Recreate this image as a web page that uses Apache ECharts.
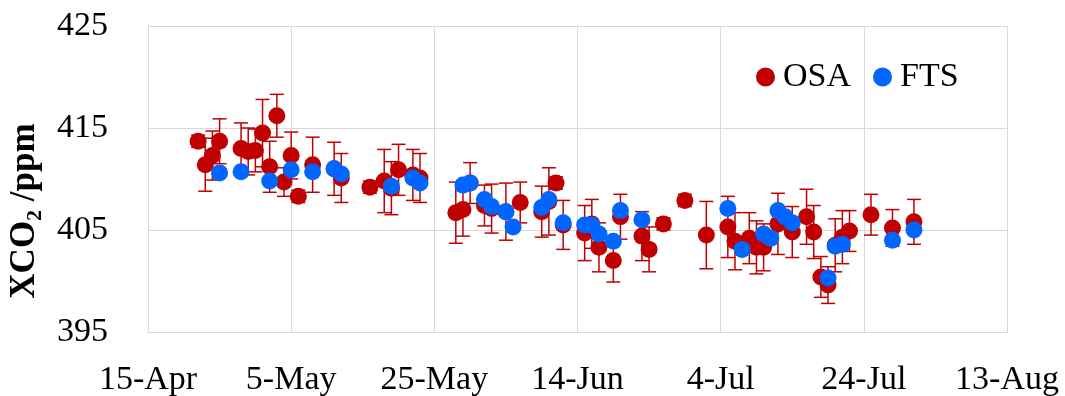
<!DOCTYPE html>
<html>
<head>
<meta charset="utf-8">
<script src="https://cdn.jsdelivr.net/npm/echarts@6/dist/echarts.min.js"></script>
<style>
  html, body { margin: 0; padding: 0; background: #ffffff; }
  #chart { width: 1065px; height: 396px; }
</style>
</head>
<body>
<div id="chart"></div>
<script>
// Axis start date (day 0) and tick labels every 20 days
const startDate = '04-15';
const xTickLabels = ['15-Apr', '5-May', '25-May', '14-Jun', '4-Jul', '24-Jul', '13-Aug'];
const yTicks = [395, 405, 415, 425];

// OSA retrievals (month-day, XCO2 in ppm, 1-sigma uncertainty in ppm)
const osaDates = ['04-22', '04-23', '04-24', '04-25', '04-28', '04-29', '04-30', '05-01', '05-02', '05-03',
                  '05-04', '05-05', '05-06', '05-08', '05-11', '05-12', '05-16', '05-18', '05-19', '05-20',
                  '05-22', '05-23', '05-28', '05-29', '05-30', '06-01', '06-02', '06-04', '06-06', '06-09',
                  '06-10', '06-11', '06-12', '06-15', '06-16', '06-17', '06-19', '06-20', '06-23', '06-24',
                  '06-26', '06-29', '07-02', '07-05', '07-06', '07-08', '07-09', '07-10', '07-12', '07-14',
                  '07-16', '07-17', '07-18', '07-19', '07-20', '07-21', '07-22', '07-25', '07-28', '07-31'];
const osaValues = [413.7, 411.4, 412.3, 413.7, 413.0, 412.7, 412.8, 414.5, 411.2, 416.2,
                   409.7, 412.3, 408.3, 411.4, 411.0, 410.1, 409.2, 409.8, 409.1, 410.9,
                   410.4, 410.1, 406.7, 407.0, 409.6, 407.4, 407.1, 406.8, 407.7, 406.8,
                   407.8, 409.6, 405.5, 404.7, 405.6, 403.3, 402.0, 406.3, 404.4, 403.1,
                   405.6, 407.9, 404.5, 405.3, 403.9, 404.2, 403.3, 403.3, 405.6, 404.8,
                   406.3, 404.8, 400.4, 399.6, 403.5, 404.3, 404.9, 406.5, 405.2, 405.8];
const osaErrors = [0.6, 2.6, 2.4, 2.2, 2.5, 2.3, 2.1, 3.3, 2.5, 2.1,
                   1.4, 2.3, 0.6, 2.7, 2.6, 2.4, 0.6, 3.1, 2.6, 2.5,
                   2.5, 2.4, 3.0, 2.6, 2.0, 2.0, 2.4, 2.8, 2.0, 2.5,
                   3.3, 0.6, 2.4, 2.7, 2.4, 2.4, 2.1, 2.2, 2.4, 2.2,
                   0.6, 0.6, 3.3, 3.0, 2.8, 2.5, 2.6, 2.3, 3.0, 2.5,
                   2.7, 2.6, 2.0, 1.8, 2.6, 2.6, 2.0, 2.0, 1.8, 2.2];

// FTS measurements (month-day, XCO2 in ppm)
const ftsDates = ['04-25', '04-28', '05-02', '05-05', '05-08', '05-11', '05-12', '05-19', '05-22', '05-23',
                  '05-29', '05-30', '06-01', '06-02', '06-04', '06-05', '06-09', '06-10', '06-12', '06-15',
                  '06-16', '06-17', '06-19', '06-20', '06-23', '07-05', '07-07', '07-10', '07-11', '07-12',
                  '07-13', '07-14', '07-19', '07-20', '07-21', '07-28', '07-31'];
const ftsValues = [410.6, 410.7, 409.8, 410.9, 410.7, 411.0, 410.5, 409.3, 410.1, 409.6,
                   409.4, 409.6, 408.0, 407.3, 406.8, 405.3, 407.2, 408.0, 405.7, 405.5,
                   405.5, 404.6, 403.9, 406.9, 406.0, 407.1, 403.1, 404.6, 404.2, 406.9,
                   406.3, 405.7, 400.3, 403.4, 403.6, 404.0, 405.0];

const OSA_COLOR = '#C00000';
const FTS_COLOR = '#0066FF';
const SERIF = '"Liberation Serif", "Times New Roman", serif';

// Days elapsed since the axis start date
function dayOffset(md) {
  const [m0, d0] = startDate.split('-').map(Number);
  const [m, d] = md.split('-').map(Number);
  return (Date.UTC(2019, m - 1, d) - Date.UTC(2019, m0 - 1, d0)) / 86400000;
}

const osaPoints = osaDates.map((md, i) => [dayOffset(md), osaValues[i]]);
const osaBars = osaDates.map((md, i) => [dayOffset(md), osaValues[i], osaErrors[i]]);
const ftsPoints = ftsDates.map((md, i) => [dayOffset(md), ftsValues[i]]);

// Vertical error bar with end caps
function renderErrorBar(params, api) {
  const x = api.value(0), y = api.value(1), e = api.value(2);
  const hi = api.coord([x, y + e]);
  const lo = api.coord([x, y - e]);
  const cap = 7;
  const style = { stroke: OSA_COLOR, lineWidth: 1.5, fill: null };
  return {
    type: 'group',
    children: [
      { type: 'line', shape: { x1: hi[0], y1: hi[1], x2: lo[0], y2: lo[1] }, style },
      { type: 'line', shape: { x1: hi[0] - cap, y1: hi[1], x2: hi[0] + cap, y2: hi[1] }, style },
      { type: 'line', shape: { x1: lo[0] - cap, y1: lo[1], x2: lo[0] + cap, y2: lo[1] }, style }
    ]
  };
}

const chart = echarts.init(document.getElementById('chart'), null, { renderer: 'canvas' });

const gridLine = { show: true, lineStyle: { color: '#d9d9d9', width: 1 } };

chart.setOption({
  animation: false,
  backgroundColor: '#ffffff',
  grid: { left: 148, right: 58, top: 26, bottom: 64, containLabel: false, outerBoundsMode: 'none' },
  legend: {
    data: ['OSA', 'FTS'],
    left: 751,
    top: 55,
    icon: 'circle',
    itemWidth: 19,
    itemHeight: 19,
    itemGap: 22,
    textStyle: { fontFamily: SERIF, fontSize: 34, color: '#000000', padding: [0, 0, 0, 3] }
  },
  xAxis: {
    type: 'value',
    min: 0,
    max: 120,
    interval: 20,
    axisLine: { show: true, lineStyle: { color: '#d9d9d9', width: 1 } },
    axisTick: { show: false },
    splitLine: gridLine,
    axisLabel: {
      margin: 31,
      fontFamily: SERIF,
      fontSize: 34,
      color: '#000000',
      formatter: v => xTickLabels[Math.round(v / 20)]
    }
  },
  yAxis: {
    type: 'value',
    min: yTicks[0],
    max: yTicks[yTicks.length - 1],
    interval: 10,
    axisLine: { show: true, lineStyle: { color: '#d9d9d9', width: 1 } },
    axisTick: { show: false },
    splitLine: gridLine,
    axisLabel: {
      margin: 40,
      fontFamily: SERIF,
      fontSize: 34,
      color: '#000000'
    },
    name: '{a|XCO}{s|2}{a| /ppm}',
    nameLocation: 'middle',
    nameGap: 102,
    nameRotate: 90,
    nameTextStyle: {
      padding: [0, 64, 0, 0],
      rich: {
        a: { fontFamily: SERIF, fontSize: 35, fontWeight: 'bold', color: '#000000', lineHeight: 42, verticalAlign: 'middle' },
        s: { fontFamily: SERIF, fontSize: 22, fontWeight: 'bold', color: '#000000', lineHeight: 42, verticalAlign: 'bottom' }
      }
    }
  },
  series: [
    {
      name: 'OSA errors',
      type: 'custom',
      renderItem: renderErrorBar,
      data: osaBars,
      encode: { x: 0, y: [1] },
      z: 2,
      silent: true
    },
    {
      name: 'OSA',
      type: 'scatter',
      data: osaPoints,
      symbol: 'circle',
      symbolSize: 17,
      itemStyle: { color: OSA_COLOR, opacity: 1 },
      z: 3
    },
    {
      name: 'FTS',
      type: 'scatter',
      data: ftsPoints,
      symbol: 'circle',
      symbolSize: 17,
      itemStyle: { color: FTS_COLOR, opacity: 1 },
      z: 4
    }
  ]
});
</script>
</body>
</html>
